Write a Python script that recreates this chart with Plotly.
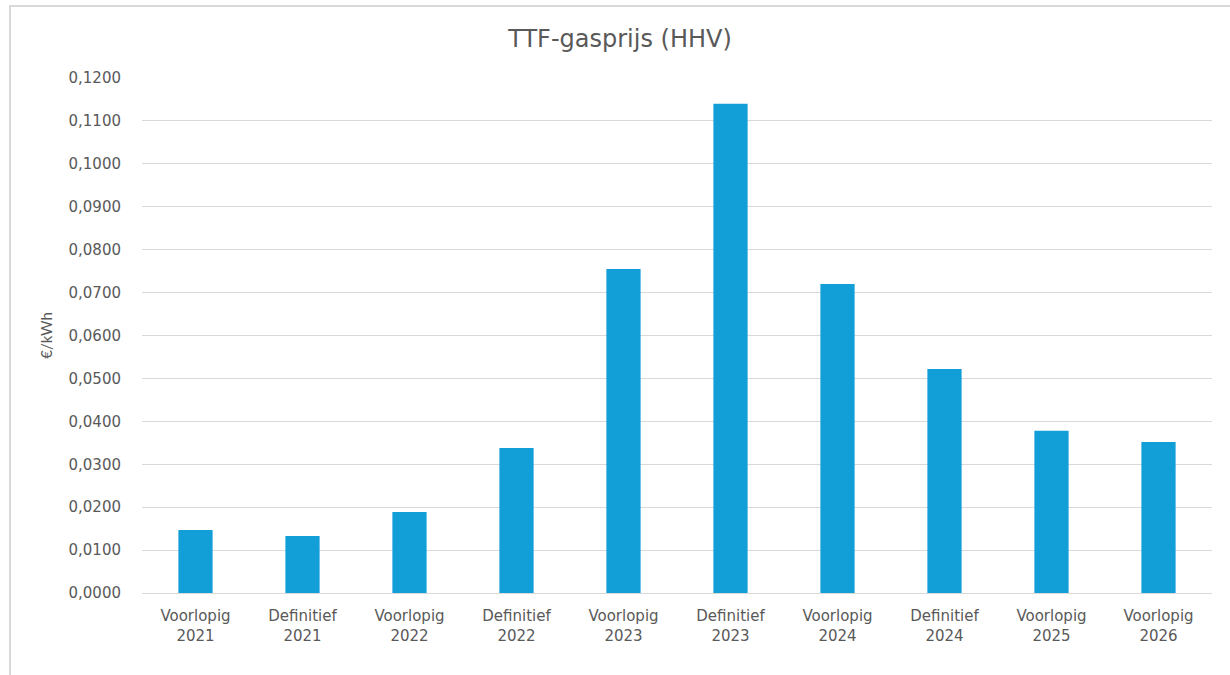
import plotly.graph_objects as go

categories = ["Voorlopig<br>2021", "Definitief<br>2021", "Voorlopig<br>2022", "Definitief<br>2022",
              "Voorlopig<br>2023", "Definitief<br>2023", "Voorlopig<br>2024", "Definitief<br>2024",
              "Voorlopig<br>2025", "Voorlopig<br>2026"]
values = [0.0147, 0.0133, 0.0189, 0.0338, 0.0755, 0.1140, 0.0720, 0.0522, 0.0378, 0.0352]
tick_vals = [0.0, 0.01, 0.02, 0.03, 0.04, 0.05, 0.06, 0.07, 0.08, 0.09, 0.10, 0.11, 0.12]

W, H = 1230, 675
L, R, T, B = 142, 18, 78, 82
pw, ph = W - L - R, H - T - B
GREY = "#595959"
FONT = "DejaVu Sans, sans-serif"

fig = go.Figure(go.Bar(x=categories, y=values, marker_color="#129fd7",
                       marker_line_width=0, width=0.32))

fig.update_layout(
    width=W, height=H,
    margin=dict(l=L, r=R, t=T, b=B),
    paper_bgcolor="white", plot_bgcolor="white",
    separators=",.",
    font=dict(family=FONT, color=GREY, size=15),
    title=dict(text="TTF-gasprijs (HHV)", x=620 / W, xanchor="center",
               y=1 - 39 / H, yanchor="middle", font=dict(family=FONT, size=24, color=GREY)),
    showlegend=False,
    xaxis=dict(showgrid=False, showline=False, ticks="", ticklabelstandoff=12,
               tickfont=dict(family=FONT, size=15, color=GREY)),
    yaxis=dict(range=[0, 0.12], tickvals=tick_vals, tickformat=".4f", showgrid=True,
               gridcolor="#d9d9d9", gridwidth=1.3, zeroline=True, zerolinecolor="#d9d9d9",
               zerolinewidth=1.3, showline=False, ticks="", ticklabelstandoff=20,
               tickfont=dict(family=FONT, size=15, color=GREY),
               title=dict(text="€/kWh", standoff=12,
                          font=dict(family="Lato, sans-serif", size=15, color=GREY))),
)

# outer chart frame (Excel chart border)
fig.add_shape(type="rect", xref="paper", yref="paper",
              x0=(10 - L) / pw, x1=(1240 - L) / pw,
              y0=-(B + 20) / ph, y1=1 + (T - 6) / ph,
              line=dict(color="#d9d9d9", width=2), fillcolor="rgba(0,0,0,0)", layer="below")

fig.write_html("out.html", config={"displayModeBar": False},
               post_script="document.body.style.margin='0';document.body.style.overflow='hidden';")
